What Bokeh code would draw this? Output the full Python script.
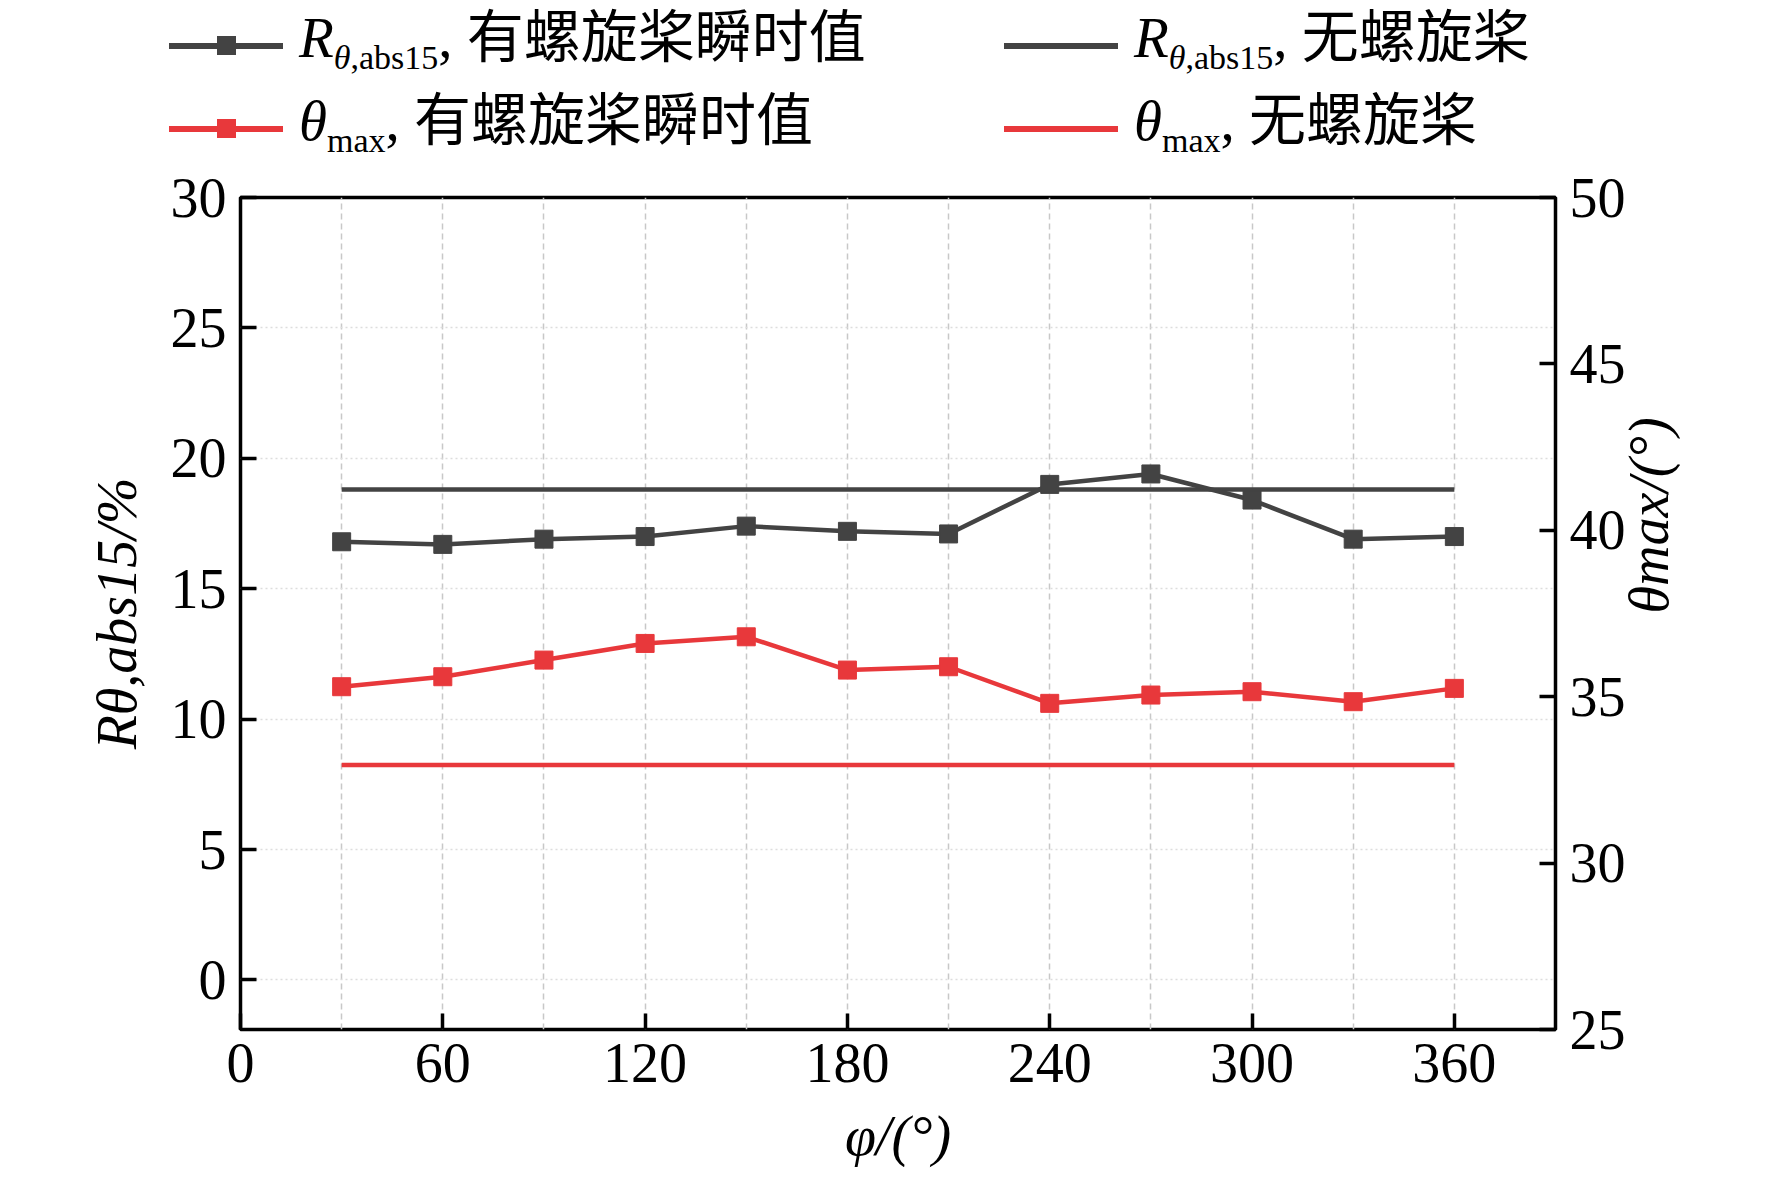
import math
from bokeh.plotting import figure
from bokeh.models import Range1d, LinearAxis, FixedTicker, Div
from bokeh.layouts import column
from bokeh.embed import file_html
from bokeh.resources import INLINE

phi = [30, 60, 90, 120, 150, 180, 210, 240, 270, 300, 330, 360]
r_prop = [16.8, 16.7, 16.9, 17.0, 17.4, 17.2, 17.1, 19.0, 19.4, 18.4, 16.9, 17.0]
r_noprop = 18.8
th_prop = [35.3, 35.6, 36.1, 36.6, 36.8, 35.8, 35.9, 34.8, 35.05, 35.15, 34.85, 35.25]
th_noprop = 32.95
x_ticks = [0, 60, 120, 180, 240, 300, 360]
yl_ticks = [0, 5, 10, 15, 20, 25, 30]
yr_ticks = [25, 30, 35, 40, 45, 50]

GRAY = "#434343"
RED = "#e8383b"
FONT = "Liberation Serif"

W = 1750
LH = 171
p = figure(width=W, height=1015, output_backend="svg", toolbar_location=None,
           x_range=Range1d(0, 390), y_range=Range1d(-1.9, 30),
           min_border_left=240, min_border_right=195, min_border_top=26, min_border_bottom=157)
p.extra_y_ranges = {"th": Range1d(25, 50)}

p.line(phi, [r_noprop]*len(phi), color=GRAY, line_width=4.5)
p.line(phi, r_prop, color=GRAY, line_width=4.5)
p.scatter(phi, r_prop, marker="square", size=18, color=GRAY)
p.line(phi, [th_noprop]*len(phi), color=RED, line_width=4.5, y_range_name="th")
p.line(phi, th_prop, color=RED, line_width=4.5, y_range_name="th")
p.scatter(phi, th_prop, marker="square", size=18, color=RED, y_range_name="th")

p.outline_line_color = "black"
p.outline_line_width = 3.5
p.outline_line_alpha = 1

p.xaxis.ticker = FixedTicker(ticks=x_ticks)
p.yaxis.ticker = FixedTicker(ticks=yl_ticks)
p.xgrid.ticker = FixedTicker(ticks=list(range(30, 390, 30)))
p.xgrid.grid_line_color = "#c8c8c8"
p.xgrid.grid_line_dash = "6 4"
p.xgrid.grid_line_width = 1.5
p.ygrid.grid_line_color = "#dddddd"
p.ygrid.grid_line_dash = "2 3"
p.ygrid.grid_line_width = 1.5

ra = LinearAxis(y_range_name="th", ticker=FixedTicker(ticks=yr_ticks))
p.add_layout(ra, "right")

for ax in [p.xaxis[0], p.yaxis[0], ra]:
    ax.major_label_text_font = FONT
    ax.major_label_text_font_size = "56px"
    ax.major_label_text_color = "black"
    ax.axis_label_text_font = FONT
    ax.axis_label_text_font_size = "56px"
    ax.axis_label_text_font_style = "italic"
    ax.axis_label_text_color = "black"
    ax.axis_line_color = None
    ax.major_tick_in = 16
    ax.major_tick_out = 0
    ax.major_tick_line_width = 3.5
    ax.major_tick_line_color = "black"
    ax.minor_tick_line_color = None
    ax.major_label_standoff = 14
    ax.axis_label_standoff = 20

p.xaxis.axis_label = "φ/(°)"
p.yaxis.axis_label = "Rθ,abs15/%"
ra.axis_label = "θmax/(°)"
ra.axis_label_orientation = math.pi / 2

def item(x, y, color, marker, html):
    s = f'<div style="position:absolute;left:{x}px;top:{y}px;width:114px;height:6px;background:{color};"></div>'
    if marker:
        s += f'<div style="position:absolute;left:{x+48}px;top:{y-7}px;width:19px;height:19px;background:{color};"></div>'
    s += (f'<div style="position:absolute;left:{x+130}px;top:{y-40}px;font-family:\'{FONT}\',\'Noto Sans CJK SC\';'
          f'font-size:57px;white-space:nowrap;line-height:70px;color:black;">{html}</div>')
    return s

R = '<i>R</i><sub style="font-size:34px;"><i>θ</i>,abs15</sub>'
T = '<i>θ</i><sub style="font-size:34px;">max</sub>'
legend_html = ('<div style="position:relative;width:%dpx;height:%dpx;">' % (W, LH)
               + item(169, 43, GRAY, True, R + ', 有螺旋桨瞬时值')
               + item(1004, 43, GRAY, False, R + ', 无螺旋桨')
               + item(169, 126, RED, True, T + ', 有螺旋桨瞬时值')
               + item(1004, 126, RED, False, T + ', 无螺旋桨')
               + '</div>')
leg = Div(text=legend_html, width=W, height=LH, margin=(0, 0, 0, 0))
p.margin = (0, 0, 0, 0)

lay = column(leg, p, spacing=0)
open("out.html", "w").write(file_html(lay, INLINE))
